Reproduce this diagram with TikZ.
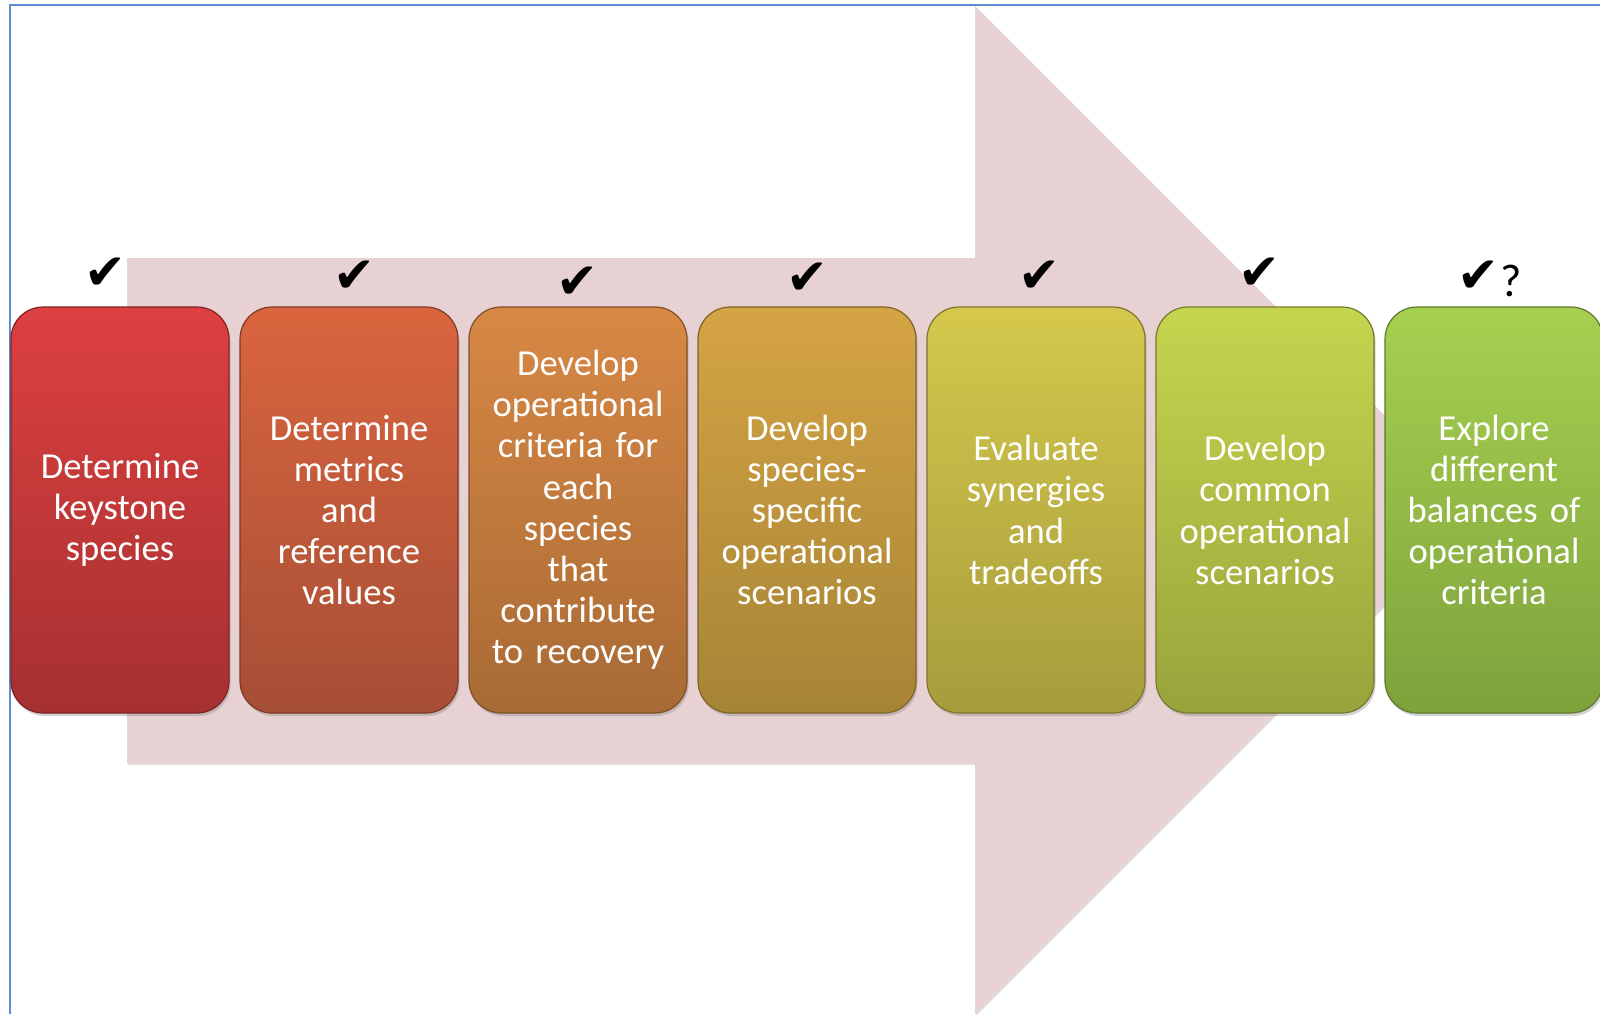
\documentclass[tikz,border=0pt]{standalone}
\usepackage{fontspec}
\setmainfont{Carlito}
\newfontfamily\tickfont{DejaVu Sans}
\usetikzlibrary{shadows}

\definecolor{arrowpink}{RGB}{231,209,210}
\definecolor{frameblue}{RGB}{96,141,206}
\definecolor{redtop}{RGB}{221,64,64}
\definecolor{redbot}{RGB}{166,48,48}
\definecolor{rusttop}{RGB}{218,101,62}
\definecolor{rustbot}{RGB}{166,78,54}
\definecolor{orangetop}{RGB}{216,136,68}
\definecolor{orangebot}{RGB}{168,106,53}
\definecolor{ambertop}{RGB}{213,164,68}
\definecolor{amberbot}{RGB}{166,132,54}
\definecolor{yellowtop}{RGB}{213,200,76}
\definecolor{yellowbot}{RGB}{166,156,60}
\definecolor{limetop}{RGB}{198,213,78}
\definecolor{limebot}{RGB}{152,164,60}
\definecolor{greentop}{RGB}{167,208,80}
\definecolor{greenbot}{RGB}{126,162,60}

\begin{document}
\begin{tikzpicture}[x=0.5pt,y=-0.5pt]

\tikzstyle{stagebox}=[rectangle,rounded corners=16pt,minimum width=109pt,minimum height=203pt,inner sep=0pt,text width=106pt,align=center,text=white,font=\fontsize{18.3}{20.6}\selectfont,line width=0.6pt,drop shadow={opacity=0.35,shadow xshift=0.8pt,shadow yshift=-1.5pt}]
\tikzstyle{tick}=[font=\tickfont\fontsize{25}{25}\selectfont,inner sep=0pt]

\useasboundingbox (0,0) rectangle (1600,1014);

%big arrow behind the steps.
\fill[arrowpink,drop shadow={opacity=0.25,shadow xshift=0.6pt,shadow yshift=-1pt}]
  (127,258) -- (975,258) -- (975,6) -- (1479,510) -- (975,1014) -- (975,763) -- (127,763) -- cycle;

\draw[frameblue,line width=1pt] (10,1014) -- (10,4.5) -- (1600,4.5);

\node[stagebox,top color=redtop,bottom color=redbot,draw=redbot!75!black] (keystone) at (120,510) {Determine\\keystone\\species};
\node[stagebox,top color=rusttop,bottom color=rustbot,draw=rustbot!75!black] (metrics) at (349,510) {Determine\\metrics\\and\\reference\\values};
\node[stagebox,top color=orangetop,bottom color=orangebot,draw=orangebot!75!black] (criteria) at (578,510) {Develop\\operational\\criteria for\\each\\species\\that\\contribute\\to recovery};
\node[stagebox,top color=ambertop,bottom color=amberbot,draw=amberbot!75!black] (specific) at (807,510) {Develop\\species-\\specific\\operational\\scenarios};
\node[stagebox,top color=yellowtop,bottom color=yellowbot,draw=yellowbot!75!black] (synergies) at (1036,510) {Evaluate\\synergies\\and\\tradeoffs};
\node[stagebox,top color=limetop,bottom color=limebot,draw=limebot!75!black] (common) at (1265,510) {Develop\\common\\operational\\scenarios};
\node[stagebox,top color=greentop,bottom color=greenbot,draw=greenbot!75!black] (balances) at (1494,510) {Explore\\different\\balances of\\operational\\criteria};

%ticks.
\node[tick] (tick1) at (105,274) {✔};
\node[tick] (tick2) at (354,277) {✔};
\node[tick] (tick3) at (577,283) {✔};
\node[tick] (tick4) at (807,279) {✔};
\node[tick] (tick5) at (1039,277) {✔};
\node[tick] (tick6) at (1259,274) {✔};
\node[tick] (tick7) at (1478,277) {✔};
\node[font=\fontsize{23}{23}\selectfont,inner sep=0pt] (unsure) at (1511,281) {?};

\end{tikzpicture}
\end{document}
